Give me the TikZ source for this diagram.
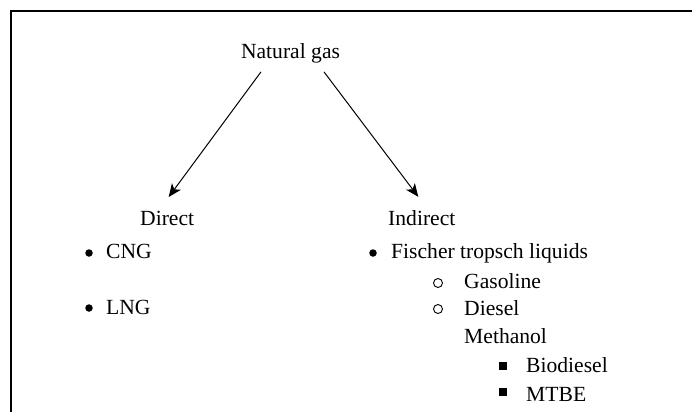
\documentclass[tikz,border=0pt]{standalone}
\usepackage{fontspec}
\setmainfont{Liberation Serif}
\usepackage{xcolor}
\usetikzlibrary{positioning, arrows.meta}

\begin{document}
\begin{tikzpicture}[
    x = 1pt, y = -1pt,
    every node/.style = {
        inner sep=0pt, font=\fontsize{21.6}{26}\selectfont
    },
    item/.style = {anchor=base west},
    dot/.style = {circle, fill, minimum size=7.5pt},
    ring/.style = {circle, draw, line width=0.9pt, minimum size=9pt},
    sq/.style = {rectangle, fill, minimum size=8pt},
    arr/.style = {-{Stealth[length=13pt, width=11pt, inset=3.5pt]}, line width=1pt}
  ]
    \useasboundingbox (0,0) rectangle (692,412);
    \draw[line width=2pt] (692,11) -- (11,11) -- (11,412);  % 边框

    \node[anchor=base] (ng) at (290.5,58) {Natural gas};  % 根节点
    \node[item] (direct) at (140,225) {Direct};  % 左分支
    \node[item] (indirect) at (388,225) {Indirect};  % 右分支

    \draw[arr] ([xshift=-29.5pt, yshift=-9pt]ng.south) -- ([xshift=1.5pt, yshift=13.5pt]direct.north);
    \draw[arr] ([xshift=33.5pt, yshift=-9pt]ng.south) -- ([xshift=-3.5pt, yshift=13pt]indirect.north);

    % 左边列表
    \node[dot] (b1) at (89,253) {};
    \node[item] (cng) at (106,258) {CNG};
    \node[dot] (b2) at (89,308) {};
    \node[item] (lng) at (106,314) {LNG};

    % 右边列表
    \node[dot] (b3) at (373,253) {};
    \node[item] (ft) at (391,258) {Fischer tropsch liquids};
    \node[ring] (c1) at (438,283) {};
    \node[item] (gas) at (464,288) {Gasoline};
    \node[ring] (c2) at (438,309) {};
    \node[item] (dsl) at (464,315) {Diesel};
    \node[item] (meth) at (464,343) {Methanol};
    \node[sq] (s1) at (503,366) {};
    \node[item] (bio) at (526,372) {Biodiesel};
    \node[sq] (s2) at (503,392) {};
    \node[item] (mtbe) at (526,401) {MTBE};
\end{tikzpicture}
\end{document}
